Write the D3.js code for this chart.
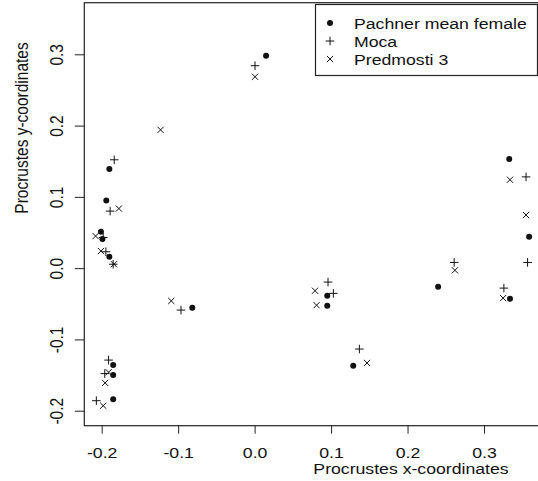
<!DOCTYPE html>
<meta charset="utf-8">
<style>
body { margin: 0; background: #fff; }
text { font-family: "Liberation Sans", Arial, sans-serif; fill: #111; }
.tick line { stroke: #222; }
</style>
<svg width="538" height="481"></svg>
<script src="https://d3js.org/d3.v7.min.js"></script>
<script>

  // Pachner mean female (dots)
  var pachnerX = [0.015, -0.190, -0.194, -0.201, -0.199, -0.190, -0.0815, -0.185, -0.185, -0.185, 0.095, 0.095, 0.129, 0.240, 0.334, 0.333, 0.359];
  var pachnerY = [0.298, 0.139, 0.095, 0.051, 0.041, 0.016, -0.0555, -0.136, -0.150, -0.184, -0.0387, -0.0527, -0.137, -0.026, -0.043, 0.153, 0.044];
  // Moca (plus)
  var mocaX = [0.0005, -0.1836, -0.189, -0.198, -0.1945, -0.185, -0.0963, -0.191, -0.196, -0.207, 0.096, 0.103, 0.137, 0.261, 0.326, 0.355, 0.357];
  var mocaY = [0.284, 0.152, 0.080, 0.043, 0.023, 0.0055, -0.0588, -0.129, -0.148, -0.186, -0.0195, -0.0354, -0.1135, 0.008, -0.028, 0.128, 0.008];
  // Predmosti 3 (cross)
  var predX = [0.0005, -0.123, -0.1775, -0.208, -0.201, -0.184, -0.109, -0.191, -0.1955, -0.198, 0.079, 0.081, 0.147, 0.262, 0.325, 0.334, 0.355];
  var predY = [0.2685, 0.194, 0.0836, 0.045, 0.024, 0.0055, -0.046, -0.146, -0.161, -0.193, -0.0317, -0.052, -0.133, -0.003, -0.042, 0.124, 0.0745];

  var xTicks = [-0.2, -0.1, 0.0, 0.1, 0.2, 0.3];
  var yTicks = [-0.2, -0.1, 0.0, 0.1, 0.2, 0.3];
  var legendLabels = ["Pachner mean female", "Moca", "Predmosti 3"];

  var svg = d3.select("svg");
  var box = {left: 84.3, top: 2.7, bottom: 425.7, right: 545};
  var sx = 1.14, fs = 15.5;

  var x = d3.scaleLinear().domain([-0.2, 0.3]).range([101.7, 484]);
  var y = d3.scaleLinear().domain([-0.2, 0.3]).range([410.7, 54.3]);

  // axes
  var xAxis = svg.append("g")
      .attr("transform", "translate(0," + box.bottom + ")")
      .call(d3.axisBottom(x).tickValues(xTicks).tickSize(8)
        .tickFormat(function(d) { return d.toFixed(1); }));
  xAxis.select(".domain").remove();
  xAxis.selectAll("text")
      .attr("y", null).attr("dy", null)
      .attr("fill", "#111")
      .style("font-size", fs + "px")
      .attr("text-anchor", "middle")
      .attr("transform", "translate(0,32.3) scale(" + sx + ",1)");

  var yAxis = svg.append("g")
      .attr("transform", "translate(" + box.left + ",0)")
      .call(d3.axisLeft(y).tickValues(yTicks).tickSize(9.5)
        .tickFormat(function(d) { return d.toFixed(1); }));
  yAxis.select(".domain").remove();
  yAxis.selectAll("text")
      .attr("x", null).attr("dy", null)
      .attr("fill", "#111")
      .style("font-size", fs + "px")
      .attr("text-anchor", "middle")
      .attr("transform", "translate(-21.5,0) scale(" + sx + ",1) rotate(-90)");

  // plot box (right side falls outside the picture)
  svg.append("rect")
      .attr("x", box.left).attr("y", box.top)
      .attr("width", box.right - box.left).attr("height", box.bottom - box.top)
      .attr("fill", "none").attr("stroke", "#222").attr("stroke-width", 1.2);

  // axis titles
  svg.append("text")
      .attr("transform", "translate(411,474) scale(" + sx + ",1)")
      .attr("text-anchor", "middle")
      .style("font-size", fs + "px")
      .text("Procrustes x-coordinates");
  svg.append("text")
      .attr("transform", "translate(28,128) scale(" + sx + ",1) rotate(-90)")
      .attr("text-anchor", "middle")
      .style("font-size", fs + "px")
      .text("Procrustes y-coordinates");

  // symbols
  function dots(g, cx, cy) {
    g.append("circle").attr("cx", cx).attr("cy", cy).attr("r", 3).attr("fill", "#111");
  }
  function plus(g, cx, cy) {
    var h = 4.3;
    g.append("path")
      .attr("d", "M" + (cx - h) + "," + cy + "H" + (cx + h) + "M" + cx + "," + (cy - h) + "V" + (cy + h))
      .attr("stroke", "#111").attr("stroke-width", 1).attr("fill", "none");
  }
  function cross(g, cx, cy) {
    var h = 3.1;
    g.append("path")
      .attr("d", "M" + (cx - h) + "," + (cy - h) + "L" + (cx + h) + "," + (cy + h) +
                 "M" + (cx - h) + "," + (cy + h) + "L" + (cx + h) + "," + (cy - h))
      .attr("stroke", "#111").attr("stroke-width", 1).attr("fill", "none");
  }

  var pts = svg.append("g");
  pachnerX.forEach(function(v, i) { dots(pts, x(v), y(pachnerY[i])); });
  mocaX.forEach(function(v, i) { plus(pts, x(v), y(mocaY[i])); });
  predX.forEach(function(v, i) { cross(pts, x(v), y(predY[i])); });

  // legend
  var lg = svg.append("g");
  lg.append("rect")
      .attr("x", 315.5).attr("y", 4.5).attr("width", 222).attr("height", 71)
      .attr("fill", "#fff").attr("stroke", "#222").attr("stroke-width", 1.2);
  var rows = [23, 41, 59];
  var markers = [dots, plus, cross];
  legendLabels.forEach(function(lab, i) {
    markers[i](lg, 330, rows[i]);
    lg.append("text")
      .attr("transform", "translate(354," + (rows[i] + 5.5) + ") scale(" + sx + ",1)")
      .style("font-size", fs + "px")
      .text(lab);
  });
</script>
